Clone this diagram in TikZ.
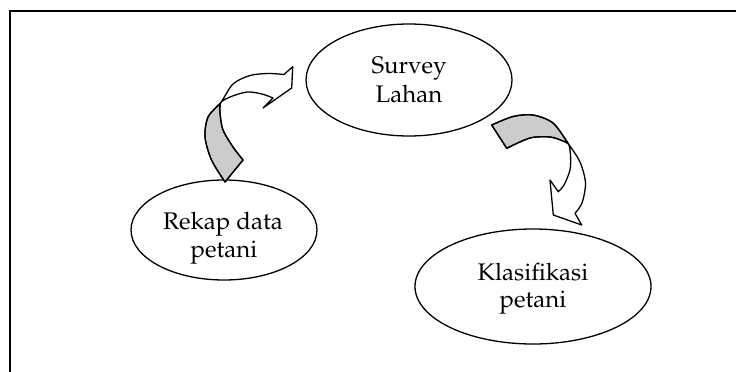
\documentclass[tikz,border=0pt]{standalone}
\usepackage[T1]{fontenc}
\usepackage{mathpazo}
\usetikzlibrary{shapes.geometric}
\begin{document}
\begin{tikzpicture}[x=1pt,y=-1pt,
  bub/.style={draw,ellipse,line width=1.3pt,inner sep=0pt},
  lbl/.style={anchor=base,inner sep=0pt,font=\fontsize{24}{29}\selectfont},
  arr/.style={line width=1.3pt,line join=round},
  under/.style={arr,fill=gray!40}]
\useasboundingbox (0,0) rectangle (736,372);
\clip (0,0) rectangle (736,372);
\draw[line width=2pt] (10,11) rectangle (800,420);
% ellipses
\node[bub,minimum width=206pt,minimum height=112pt] (survey) at (409,80) {};
\node[bub,minimum width=186pt,minimum height=100pt] (rekap) at (224,230) {};
\node[bub,minimum width=236pt,minimum height=115pt] (klas) at (533,286.5) {};
% labels
\node[lbl] (s1) at (409,73) {Survey};
\node[lbl] (s2) at (409,102) {Lahan};
\node[lbl] (r1) at (223,229) {Rekap data};
\node[lbl] (r2) at (224,257) {petani};
\node[lbl] (k1) at (533,280) {Klasifikasi};
\node[lbl] (k2) at (533,307) {petani};
% left curved arrow
\filldraw[under] plot[smooth] coordinates {(225,182) (211.5,160) (205,137) (208,117) (220.5,103)}
  -- plot[smooth] coordinates {(220.5,103) (220,113) (223,130) (233,147) (243,160)} -- cycle;
\draw[arr] plot[smooth] coordinates {(225,182) (211.5,160) (205,137) (208,117) (220.5,103) (233,84) (250,75.5) (268,73.5) (284,74.5)}
  -- (292.7,66.7) -- (291.7,88) -- (263,108)
  -- plot[smooth] coordinates {(273,98) (262,94) (247,92) (230,97) (220.5,103) (220,113) (223,130) (233,147) (243,160)} -- cycle;
% right curved arrow
\filldraw[under] plot[smooth] coordinates {(491.7,125) (513,116.5) (533,115) (553,123) (568.5,144)}
  -- plot[smooth] coordinates {(568.5,144) (563,141) (550,137) (530,138) (506.7,148.3)} -- cycle;
\draw[arr] plot[smooth] coordinates {(491.7,125) (513,116.5) (533,115) (553,123) (568.5,144) (580,162) (585.5,183) (582,203) (575,213.3)}
  -- (581.7,225) -- (553.3,215) -- (550,180)
  -- plot[smooth] coordinates {(558.3,191.7) (564,185) (570,170) (570.5,155) (568.5,144) (563,141) (550,137) (530,138) (506.7,148.3)} -- cycle;
\end{tikzpicture}
\end{document}
